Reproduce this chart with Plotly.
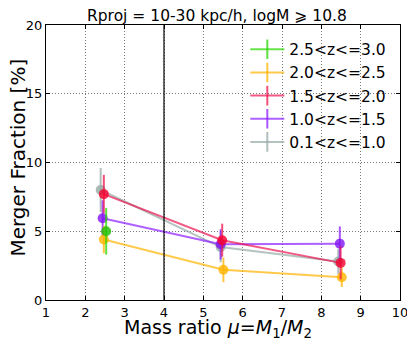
import plotly.graph_objects as go

# Data
labels = ["2.5<z<=3.0", "2.0<z<=2.5", "1.5<z<=2.0", "1.0<z<=1.5", "0.1<z<=1.0"]
x_green = [2.53]
y_green = [5.0]
e_green = [1.7]
x_yellow = [2.47, 5.51, 8.52]
y_yellow = [4.4, 2.2, 1.65]
e_yellow = [1.0, 0.9, 0.7]
x_red = [2.47, 5.48, 8.49]
y_red = [7.7, 4.35, 2.7]
e_red = [1.4, 1.2, 1.2]
x_purple = [2.44, 5.44, 8.47]
y_purple = [5.95, 4.05, 4.1]
e_purple = [1.3, 1.1, 1.25]
x_gray = [2.39, 5.44, 8.43]
y_gray = [8.0, 3.85, 2.8]
e_gray = [1.6, 1.1, 0.9]

x_ticks = list(range(1, 11))
y_ticks = [0, 5, 10, 15, 20]

# (label, x, y, err, line rgb, marker rgb) in drawing order
series = [
    (labels[4], x_gray, y_gray, e_gray, (150, 170, 165), (150, 170, 165)),
    (labels[3], x_purple, y_purple, e_purple, (140, 30, 255), (130, 20, 240)),
    (labels[1], x_yellow, y_yellow, e_yellow, (255, 180, 0), (255, 180, 0)),
    (labels[0], x_green, y_green, e_green, (40, 215, 0), (30, 190, 0)),
    (labels[2], x_red, y_red, e_red, (235, 20, 80), (245, 0, 45)),
]
legend_order = [0, 1, 2, 3, 4]


def rgba(c, a):
    return "rgba(%d,%d,%d,%.2f)" % (c[0], c[1], c[2], a)


fig = go.Figure()
for name, xs, ys, es, lc, mc in series:
    fig.add_trace(go.Scatter(
        x=xs, y=ys, name=name, mode="lines+markers", showlegend=False,
        line=dict(color=rgba(lc, 0.7), width=2),
        marker=dict(color=rgba(mc, 0.8), size=10, line=dict(width=0)),
        error_y=dict(type="data", array=es, visible=True, color=rgba(lc, 0.75),
                     thickness=2, width=0),
    ))

# legend entries (line handle with vertical error tick)
lookup = {s[0]: s for s in series}
for i in legend_order:
    name = labels[i]
    lc = lookup[name][4]
    fig.add_trace(go.Scatter(
        x=[None], y=[None], name=name, mode="lines+markers",
        line=dict(color=rgba(lc, 0.7), width=2),
        marker=dict(symbol="line-ns", size=14, line=dict(width=2, color=rgba(lc, 0.75))),
        showlegend=True,
    ))

fig.add_shape(type="line", x0=4, x1=4, y0=0, y1=20, xref="x", yref="y",
              line=dict(color="black", width=1.2), layer="above")

axis_common = dict(showgrid=True, gridcolor="#777", griddash="1px,2px", gridwidth=1,
                   showline=True, linecolor="black", linewidth=1, mirror="ticks",
                   ticks="inside", ticklen=4, tickcolor="black", zeroline=False,
                   tickfont=dict(family="DejaVu Sans", size=13, color="black"))

# page has an 8px body margin: figure is offset accordingly
fig.update_layout(
    width=407, height=337,
    margin=dict(l=38, r=15, t=17, b=45, autoexpand=False),
    plot_bgcolor="white", paper_bgcolor="white",
    xaxis=dict(range=[1, 10], tickvals=x_ticks, **axis_common),
    yaxis=dict(range=[0, 20], tickvals=y_ticks, **axis_common),
    legend=dict(x=0.563, y=0.972, xanchor="left", yanchor="top",
                bgcolor="rgba(255,255,255,0)", borderwidth=0,
                font=dict(family="DejaVu Sans", size=15.5, color="black"),
                itemwidth=34, tracegroupgap=0),
    showlegend=True,
    annotations=[
        dict(text="Rproj = 10-30 kpc/h, logM ⩾ 10.8", xref="paper", yref="paper",
             x=0.483, y=1.032, xanchor="center", yanchor="middle", showarrow=False,
             font=dict(family="DejaVu Sans", size=15.5, color="black")),
        dict(text="Mass ratio <i>μ</i>=<i>M</i><sub>1</sub>/<i>M</i><sub>2</sub>",
             xref="paper", yref="paper", x=0.486, y=-0.102, xanchor="center",
             yanchor="middle", showarrow=False,
             font=dict(family="DejaVu Sans", size=19, color="black")),
        dict(text="Merger Fraction [%]", xref="paper", yref="paper", x=-0.079, y=0.518,
             xanchor="center", yanchor="middle", textangle=-90, showarrow=False,
             font=dict(family="DejaVu Sans", size=20, color="black")),
    ],
)

fig.write_html("out.html")
